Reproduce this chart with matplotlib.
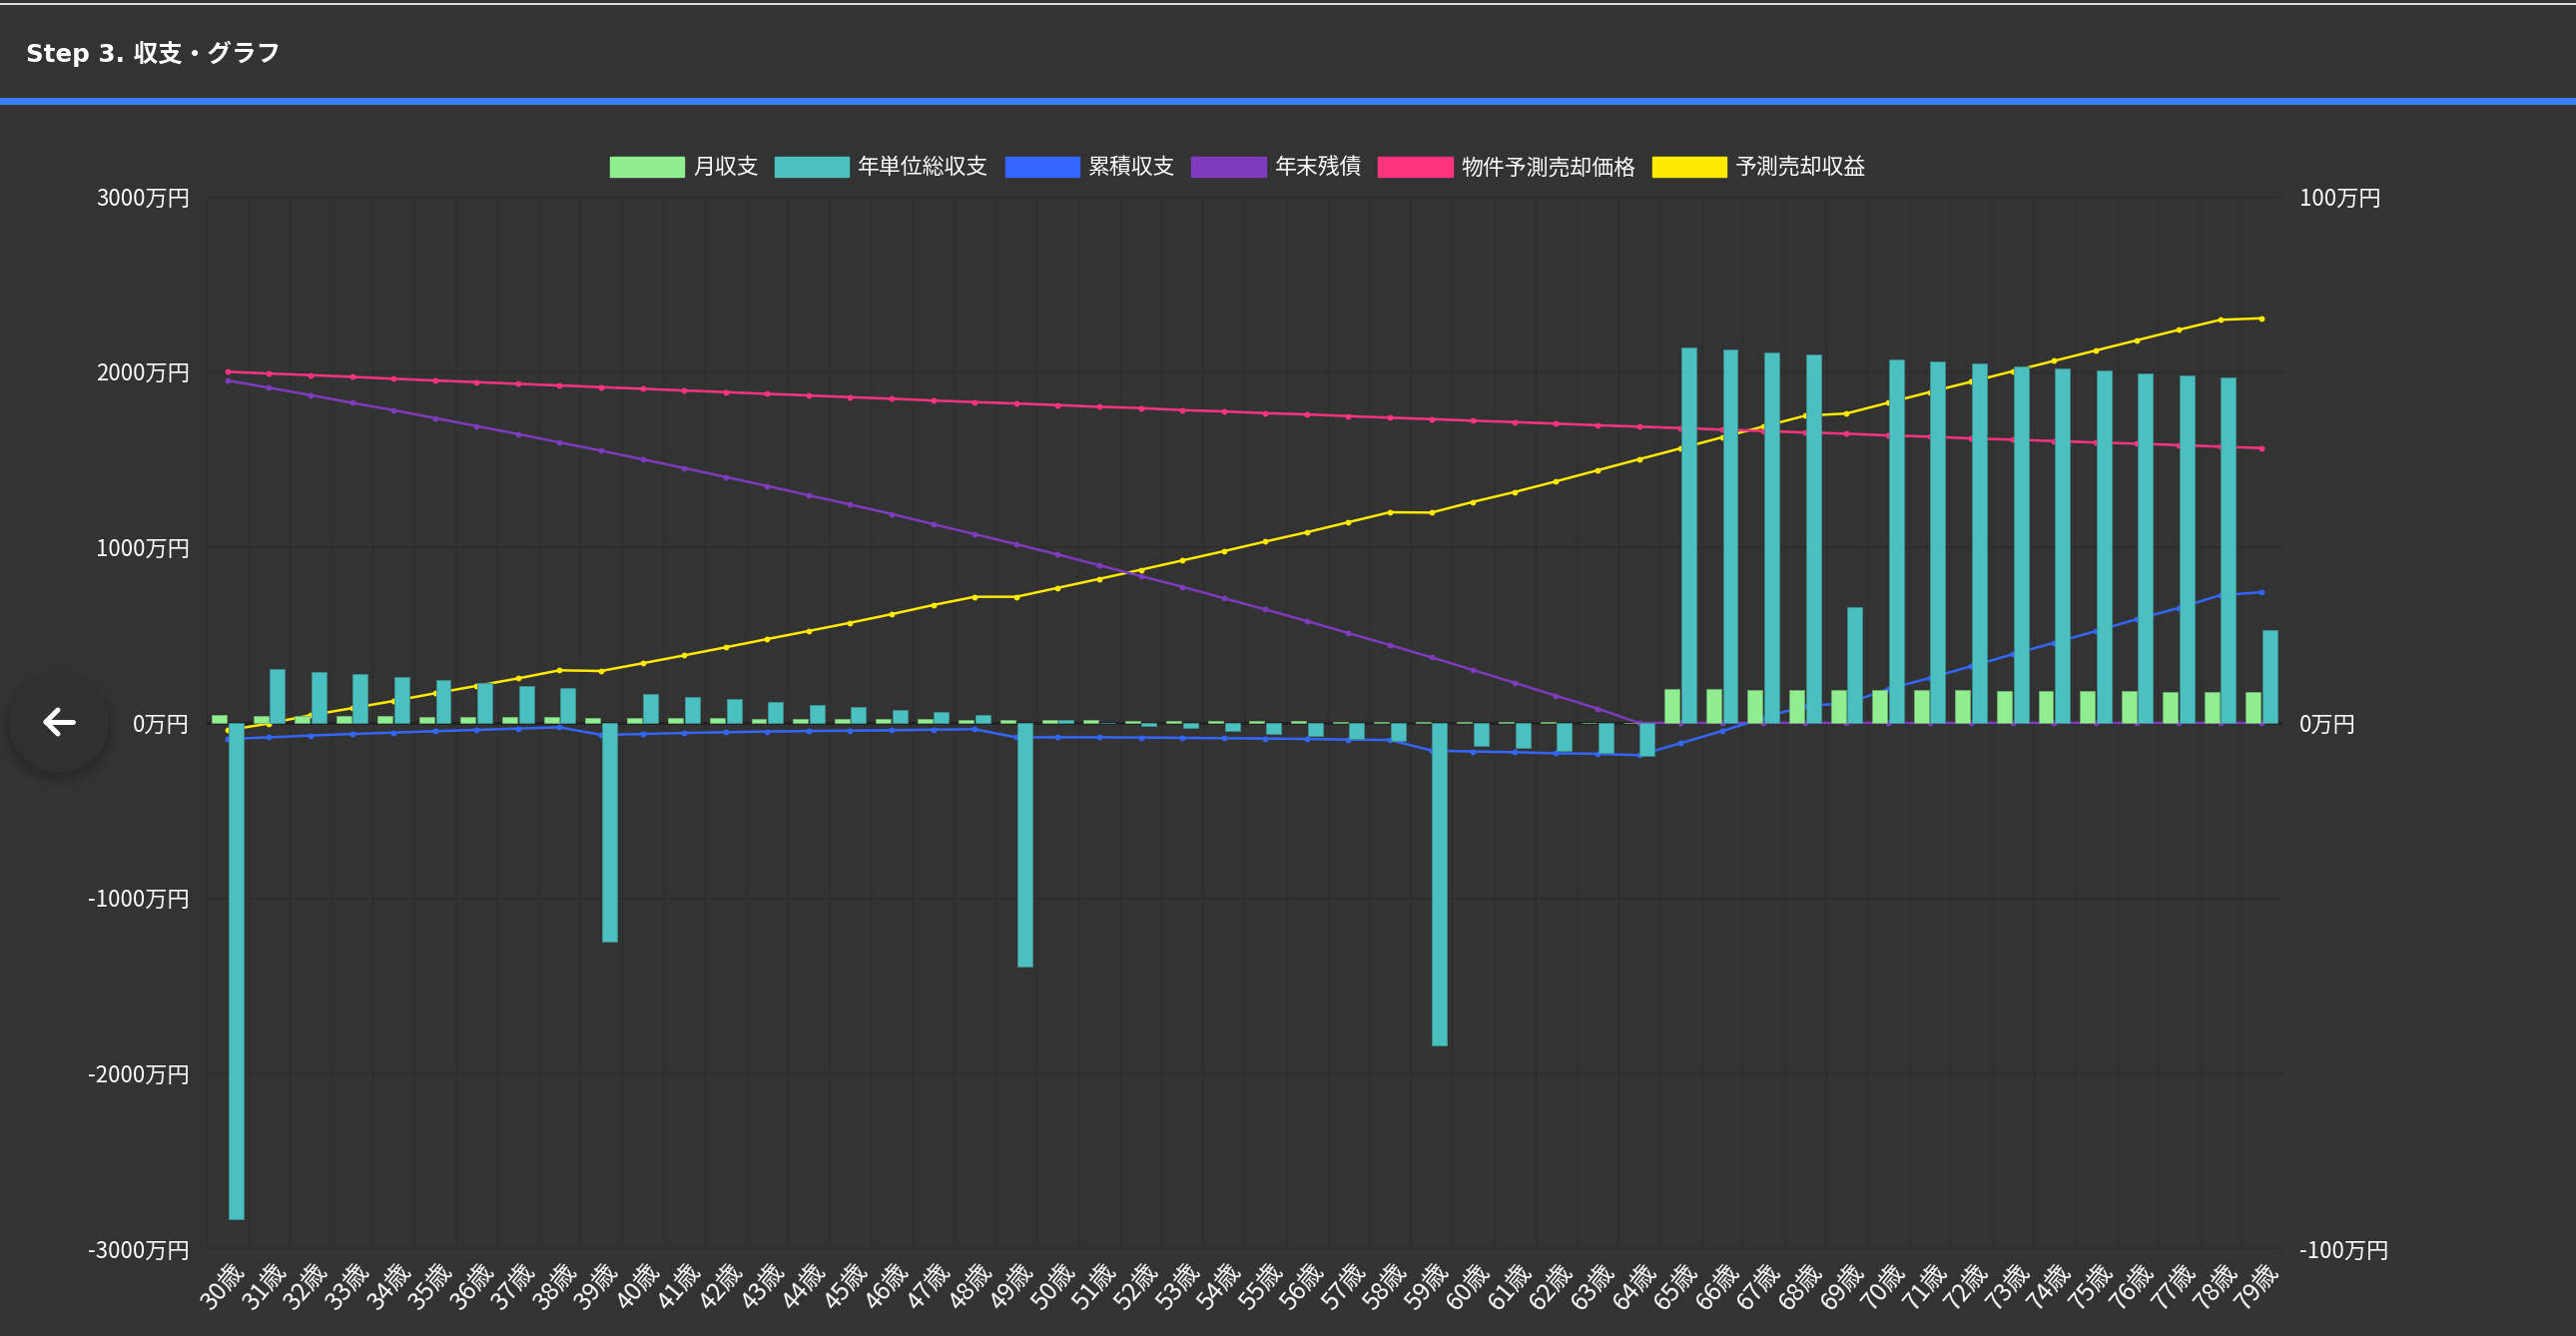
import matplotlib
matplotlib.use('Agg')
import matplotlib.pyplot as plt
from matplotlib.patches import Patch, Circle, Rectangle
from matplotlib.lines import Line2D
from matplotlib.transforms import ScaledTranslation
import numpy as np

plt.rcParams['font.family'] = ['Noto Sans CJK JP', 'DejaVu Sans']

W, H = 2580, 1338
BG = '#333333'

ages = [f'{a}歳' for a in range(30, 80)]

# 万円, left axis
year_total = [-2830, 307, 290, 277, 260, 245, 228, 212, 197, -1245,
              165, 150, 135, 120, 104, 89, 74, 61, 46, -1390,
              15, 2, -15, -30, -45, -61, -74, -89, -102, -1840,
              -131, -144, -157, -171, -186, 2140, 2127, 2112, 2100, 660,
              2072, 2058, 2047, 2032, 2020, 2007, 1992, 1981, 1969, 529]
cumulative = [-91, -82, -72, -63, -55, -47, -40, -32, -25, -68,
              -63, -57, -53, -49, -46, -44, -42, -38, -36, -82,
              -82, -82, -83, -85, -87, -89, -91, -95, -97, -157,
              -163, -167, -173, -176, -184, -116, -46, 27, 99, 110,
              193, 256, 323, 391, 457, 523, 592, 655, 728, 745]
loan_left = [1952, 1911, 1869, 1825, 1783, 1738, 1692, 1647, 1599, 1552,
             1503, 1453, 1402, 1351, 1298, 1245, 1191, 1133, 1076, 1019,
             960, 899, 837, 776, 711, 647, 581, 512, 444, 374,
             302, 229, 155, 82, 0, 0, 0, 0, 0, 0,
             0, 0, 0, 0, 0, 0, 0, 0, 0, 0]
sale_price = [2002, 1992, 1983, 1973, 1962, 1952, 1943, 1933, 1924, 1914,
              1905, 1895, 1886, 1876, 1867, 1857, 1848, 1838, 1829, 1821,
              1812, 1802, 1795, 1783, 1776, 1766, 1759, 1749, 1740, 1732,
              1723, 1715, 1706, 1697, 1689, 1681, 1672, 1664, 1656, 1649,
              1639, 1632, 1622, 1615, 1607, 1599, 1592, 1584, 1575, 1567]
sale_profit = [-42, -3, 44, 84, 125, 169, 211, 254, 300, 296,
               340, 385, 431, 478, 524, 571, 620, 672, 719, 719,
               770, 821, 873, 926, 979, 1034, 1087, 1144, 1201, 1199,
               1260, 1316, 1377, 1440, 1503, 1565, 1628, 1690, 1751, 1764,
               1825, 1886, 1945, 2005, 2064, 2123, 2182, 2241, 2298, 2307]
# 万円, right axis
monthly = [1.45, 1.33, 1.33, 1.33, 1.27, 1.20, 1.20, 1.14, 1.08, 0.95,
           0.95, 0.95, 0.89, 0.82, 0.76, 0.70, 0.70, 0.70, 0.57, 0.51,
           0.51, 0.51, 0.47, 0.38, 0.38, 0.32, 0.32, 0.25, 0.25, 0.19,
           0.19, 0.13, 0.13, 0.06, 0.06, 6.39, 6.39, 6.33, 6.33, 6.2,
           6.2, 6.2, 6.2, 6.13, 6.0, 6.0, 6.0, 5.95, 5.88, 5.82]

left_ticks = [-3000, -2000, -1000, 0, 1000, 2000, 3000]
right_ticks = [-100, 0, 100]
legend_names = ['月収支', '年単位総収支', '累積収支', '年末残債', '物件予測売却価格', '予測売却収益']
legend_colors = ['#90EE90', '#4BC0C0', '#3366FF', '#7F3BBD', '#FF337F', '#FFEA00']

fig = plt.figure(figsize=(W / 100, H / 100), dpi=100, facecolor=BG)
ax = fig.add_axes([207 / W, 1 - 1251 / H, (2286 - 207) / W, (1251 - 197) / H])
ax.set_facecolor(BG)
x = np.arange(len(ages))

# page furniture
fig.add_artist(Rectangle((0, 1 - 5 / H), 1, 2 / H, color='#dddddd', lw=0))
fig.add_artist(Rectangle((0, 1 - 105 / H), 1, 7 / H, color='#3880FF', lw=0))
fig.text(26 / W, 1 - 54 / H, 'Step 3. 収支・グラフ', color='white', fontsize=17.7,
         fontweight='bold', va='center', ha='left', family=['DejaVu Sans', 'Noto Sans CJK JP'])

# chart.js draws the first dataset on top, so the order runs backwards
for c, vals, z in [('#FFEA00', sale_profit, 2), ('#FF337F', sale_price, 3),
                   ('#7F3BBD', loan_left, 4), ('#3366FF', cumulative, 5)]:
    ax.plot(x, vals, color=c, lw=1.8, marker='o', ms=4.2, mew=0, zorder=z)
ax.bar(x + 0.2, year_total, width=0.36, color='#4BC0C0', edgecolor='#3f8f8f', lw=0.6, zorder=6)

ax.set_xlim(-0.5, 49.5)
ax.set_ylim(-3000, 3000)
ax.set_yticks(left_ticks)
ax.set_yticklabels([f'{v}万円' for v in left_ticks], color='white', fontsize=16)
ax.set_xticks(x)
ax.set_xticklabels(ages, color='white', fontsize=18, rotation=50, ha='right',
                   rotation_mode='anchor', va='top')
ax.set_xticks(np.arange(51) - 0.5, minor=True)
ax.tick_params(axis='both', which='both', length=0)
ax.tick_params(axis='y', pad=12.3)
ax.tick_params(axis='x', pad=7)
ax.grid(which='minor', axis='x', color='#2e2e2e', lw=1)
ax.grid(which='major', axis='y', color='#2c2c2c', lw=1.2)
ax.set_axisbelow(True)
ax.axhline(0, color='#222222', lw=2, zorder=1)
for s in ax.spines.values():
    s.set_visible(False)

# nudge tick labels to sit where the reference has them
for lab in ax.get_xticklabels():
    lab.set_transform(lab.get_transform() + ScaledTranslation(2 / 72, 0, fig.dpi_scale_trans))
for lab in ax.get_yticklabels():
    lab.set_transform(lab.get_transform() + ScaledTranslation(0, 0.5 / 72, fig.dpi_scale_trans))

ax2 = ax.twinx()
ax2.patch.set_visible(False)
ax2.bar(x - 0.2, monthly, width=0.36, color='#90EE90', edgecolor='#6fae6f', lw=0.6)
ax2.set_ylim(-100, 100)
ax2.set_yticks(right_ticks)
ax2.set_yticklabels([f'{v}万円' for v in right_ticks], color='white', fontsize=16)
ax2.tick_params(axis='y', length=0, pad=12)
for s in ax2.spines.values():
    s.set_visible(False)
for lab in ax2.get_yticklabels():
    lab.set_transform(lab.get_transform() + ScaledTranslation(0, 0.5 / 72, fig.dpi_scale_trans))

handles = [Patch(facecolor=c, edgecolor=c) for c in legend_colors]
fig.legend(handles, legend_names, loc='center', bbox_to_anchor=(1240 / W, 1 - 168 / H), ncol=6,
           frameon=False, fontsize=15.75, labelcolor='white', handlelength=3.4, handleheight=1.05,
           handletextpad=0.4, columnspacing=0.74, borderpad=0, borderaxespad=0)

# back button
cx, cy = 59, 723
for r, a in [(60, 0.02), (57, 0.03), (54, 0.04), (52, 0.05)]:
    fig.add_artist(Circle((cx, H - cy - 6), r, transform=None, color='black', alpha=a, lw=0))
fig.add_artist(Circle((cx, H - cy), 50, transform=None, color='#303030', lw=0))
for xs, ys in [((46, 73), (723, 723)), ((46, 58), (723, 711)), ((46, 58), (723, 735))]:
    fig.add_artist(Line2D(xs, [H - y for y in ys], transform=None, color='white', lw=3.6,
                          solid_capstyle='round'))

fig.savefig('out.png', dpi=100, facecolor=BG)
